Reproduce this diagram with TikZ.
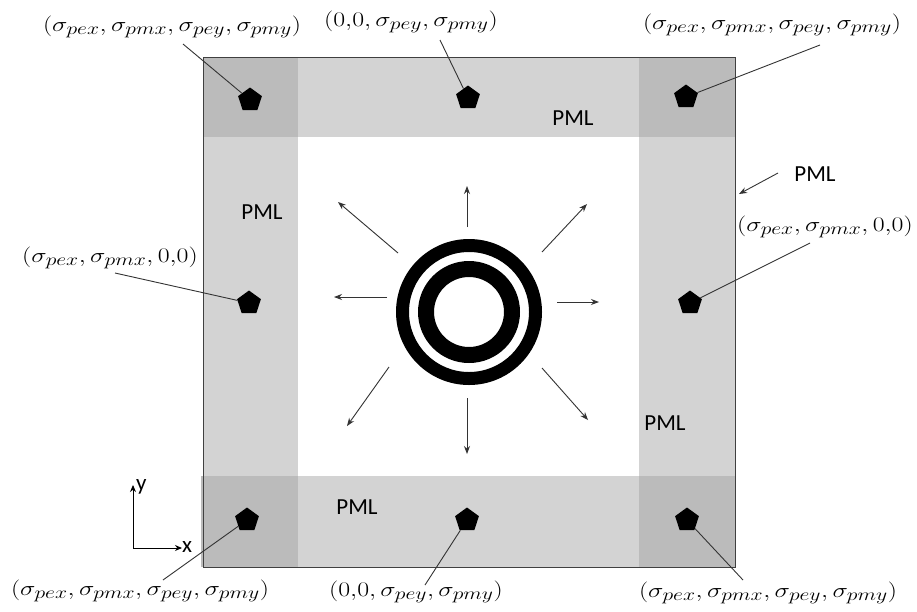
\documentclass[tikz,border=0pt]{standalone}
\usepackage{fontspec}
\usepackage{graphicx}
\newfontfamily\pmlfont{Carlito}
\usetikzlibrary{shapes.geometric,arrows.meta}
\definecolor{lightpml}{HTML}{D3D3D3}
\definecolor{darkpml}{HTML}{BBBBBB}
\definecolor{framecol}{HTML}{404040}
\DeclareMathSizes{21}{21}{16}{12}
\newcommand{\mylbl}[1]{\scalebox{1.25}[1]{$#1$}}
\begin{document}
\begin{tikzpicture}[x=1pt,y=-1pt,
 pent/.style={regular polygon,regular polygon sides=5,fill=black,minimum size=25pt,inner sep=0pt},
 lab/.style={font=\fontsize{21}{25}\selectfont,inner sep=0pt},
 pml/.style={font=\pmlfont\fontsize{23}{26}\selectfont,inner sep=0pt},
 lead/.style={draw=black!80,line width=0.9pt},
 ray/.style={draw=black!80,line width=0.9pt,-{Stealth[length=8pt,width=6pt]}}]
\useasboundingbox (0,0) rectangle (917,611);
% PML bands
\fill[lightpml] (203,57) rectangle (735,567);
\fill[white] (298,137) rectangle (639,476);
\fill[darkpml] (203,57) rectangle (298,137);
\fill[darkpml] (639,57) rectangle (735,137);
\fill[darkpml] (201,476) rectangle (298,567);
\fill[darkpml] (639,476) rectangle (735,567);
\draw[framecol,line width=1pt] (203,57) rectangle (735,567);
% source
\coordinate (src) at (469,312);
\fill[black,even odd rule] (src) circle (73pt) circle (60pt) (src) circle (51pt) circle (35pt);
% radial rays
\coordinate (r1s) at (467,227); \coordinate (r1e) at (467,186);
\coordinate (r2s) at (398,253); \coordinate (r2e) at (338,202);
\coordinate (r3s) at (542,252); \coordinate (r3e) at (587,204);
\coordinate (r4s) at (387,297); \coordinate (r4e) at (334,297);
\coordinate (r5s) at (557,302); \coordinate (r5e) at (599,302);
\coordinate (r6s) at (389,367); \coordinate (r6e) at (347,426);
\coordinate (r7s) at (467,398); \coordinate (r7e) at (467,454);
\coordinate (r8s) at (542,368); \coordinate (r8e) at (588,420);
\foreach \i in {1,...,8} {\draw[ray] (r\i s) -- (r\i e);}
% pentagons
\node[pent] (ptl) at (250,100) {};
\node[pent] (ptm) at (468,98) {};
\node[pent] (ptr) at (686,97) {};
\node[pent] (pml) at (249,303) {};
\node[pent] (pmr) at (690,303) {};
\node[pent] (pbl) at (247,520) {};
\node[pent] (pbm) at (467,520) {};
\node[pent] (pbr) at (687,520) {};
% labels
\node[lab] (ltl) at (172,27) {\mylbl{(\sigma_{pex},\sigma_{pmx},\sigma_{pey},\sigma_{pmy})}};
\node[lab] (ltm) at (411,22) {\mylbl{(0{,}0,\sigma_{pey},\sigma_{pmy})}};
\node[lab] (ltr) at (772,25) {\mylbl{(\sigma_{pex},\sigma_{pmx},\sigma_{pey},\sigma_{pmy})}};
\node[lab] (lml) at (110,258) {\mylbl{(\sigma_{pex},\sigma_{pmx},0{,}0)}};
\node[lab] (lmr) at (825,227) {\mylbl{(\sigma_{pex},\sigma_{pmx},0{,}0)}};
\node[lab] (lbl) at (140,591) {\mylbl{(\sigma_{pex},\sigma_{pmx},\sigma_{pey},\sigma_{pmy})}};
\node[lab] (lbm) at (416,592) {\mylbl{(0{,}0,\sigma_{pey},\sigma_{pmy})}};
\node[lab] (lbr) at (768,593) {\mylbl{(\sigma_{pex},\sigma_{pmx},\sigma_{pey},\sigma_{pmy})}};
% leader lines
\coordinate (atl) at (183,44); \draw[lead] (atl) -- (ptl);
\coordinate (atm) at (440,40); \draw[lead] (atm) -- (ptm);
\coordinate (atr) at (820,45); \draw[lead] (atr) -- (ptr);
\coordinate (aml) at (115,273); \draw[lead] (aml) -- (pml);
\coordinate (amr) at (810,243); \draw[lead] (amr) -- (pmr);
\coordinate (abl) at (163,580); \draw[lead] (abl) -- (pbl);
\coordinate (abm) at (425,585); \draw[lead] (abm) -- (pbm);
\coordinate (abr) at (743,580); \draw[lead] (abr) -- (pbr);
% PML labels
\node[pml] (pmlt) at (573,118) {PML};
\node[pml] (pmll) at (262,212) {PML};
\node[pml] (pmlr) at (665,423) {PML};
\node[pml] (pmlb) at (357,507) {PML};
\node[pml] (pmlo) at (815,174) {PML};
\coordinate (pmloa) at (778,173);
\coordinate (pmlob) at (739,194);
\draw[ray] (pmloa) -- (pmlob);
% axes
\coordinate (ax0) at (133,548);
\coordinate (axy) at (133,485);
\coordinate (axx) at (182,548);
\draw[black,line width=0.9pt,-{Stealth[length=7pt,width=6pt]}] (ax0) -- (axy);
\draw[black,line width=0.9pt,-{Stealth[length=7pt,width=6pt]}] (ax0) -- (axx);
\node[pml,anchor=west] (ylab) at (136,487) {y};
\node[pml,anchor=west] (xlab) at (182,547) {x};
\end{tikzpicture}
\end{document}
